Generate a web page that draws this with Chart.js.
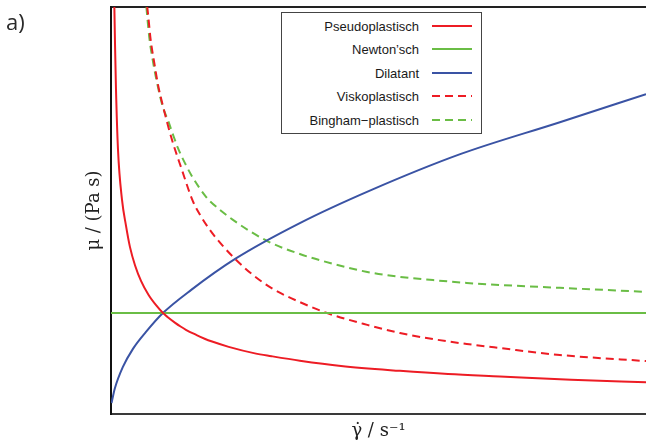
<!DOCTYPE html>
<html>
<head>
<meta charset="utf-8">
<script src="https://cdn.jsdelivr.net/npm/chart.js@4/dist/chart.umd.min.js"></script>
<style>
  html, body { margin: 0; padding: 0; background: #fff; overflow: hidden; }
  #wrap { position: relative; width: 646px; height: 443px; }
  #c { position: absolute; left: 0; top: 0; }
  #tag { position: absolute; left: 6px; top: 10px; font-family: "Open Sans", sans-serif; font-size: 22px; line-height: 22px; color: #2a2a2a; }
  #legend { position: absolute; left: 281px; top: 12px; width: 199px; height: 119px; border: 1px solid #444; background: #fff; padding-top: 1px; box-sizing: content-box; }
  .row { position: relative; height: 23.5px; }
  .row span { position: absolute; right: 62px; top: 50%; transform: translateY(-50%); font-family: "Liberation Sans", Arial, sans-serif; font-size: 13px; color: #1a1a1a; white-space: nowrap; }
  .row svg { position: absolute; left: 150px; top: 50%; transform: translateY(-50%); }
</style>
</head>
<body>
<div id="wrap">
  <canvas id="c" width="646" height="443"></canvas>
  <div id="tag">a)</div>
  <div id="legend"></div>
</div>
<script>
// Series names (legend order)
const seriesNames = ['Pseudoplastisch', 'Newton\u2019sch', 'Dilatant', 'Viskoplastisch', 'Bingham\u2212plastisch'];
const seriesColors = ['#ED1C24', '#6ABD45', '#3A53A4', '#ED1C24', '#6ABD45'];
const seriesDashed = [false, false, false, true, true];

// Axis titles
const xTitle = '\u03B3\u0307 / s\u207B\u00B9';
const yTitle = '\u03BC / (Pa s)';

// Values (arbitrary units, axes 0..10)
const pseudoX = [0.056, 0.075, 0.093, 0.131, 0.206, 0.28, 0.355, 0.45, 0.561, 0.70, 0.85, 0.972, 1.05, 1.20, 1.30, 1.40, 1.60, 1.75, 1.89, 2.20, 2.69, 3.00, 3.53, 4.30, 5.40, 6.30, 7.27, 8.60, 10.0];
const pseudoY = [10.52, 9.09, 7.99, 6.49, 5.26, 4.63, 4.10, 3.65, 3.27, 2.93, 2.66, 2.48, 2.39, 2.24, 2.15, 2.07, 1.94, 1.85, 1.78, 1.65, 1.49, 1.42, 1.31, 1.18, 1.06, 0.98, 0.92, 0.84, 0.78];

const newtonX = [0, 10];
const newtonY = [2.48, 2.48];

const dilatX = [0.01, 0.07, 0.22, 0.41, 0.65, 0.97, 1.50, 2.32, 3.53, 4.86, 6.54, 8.39, 10.0];
const dilatY = [0.27, 0.62, 1.15, 1.60, 2.01, 2.48, 3.05, 3.81, 4.69, 5.50, 6.39, 7.17, 7.86];

const viskoX = [0.65, 0.70, 0.74, 0.81, 0.88, 0.98, 1.13, 1.32, 1.53, 1.68, 1.85, 2.09, 2.32, 2.65, 3.03, 3.53, 4.04, 4.79, 5.40, 6.02, 6.65, 7.27, 8.39, 10.0];
const viskoY = [10.32, 9.73, 9.21, 8.62, 8.08, 7.52, 6.78, 6.02, 5.23, 4.86, 4.52, 4.13, 3.81, 3.42, 3.07, 2.75, 2.48, 2.19, 1.99, 1.84, 1.72, 1.62, 1.45, 1.30];

const binghamX = [0.64, 0.68, 0.72, 0.79, 0.87, 0.97, 1.07, 1.16, 1.25, 1.38, 1.51, 1.64, 1.78, 1.85, 2.28, 2.92, 3.53, 4.15, 4.79, 5.40, 6.02, 6.65, 7.27, 8.39, 10.0];
const binghamY = [10.32, 9.73, 9.21, 8.62, 8.08, 7.54, 7.20, 6.86, 6.54, 6.17, 5.85, 5.58, 5.33, 5.23, 4.77, 4.25, 3.93, 3.69, 3.49, 3.37, 3.29, 3.22, 3.17, 3.10, 3.00];

const seriesX = [pseudoX, newtonX, dilatX, viskoX, binghamX];
const seriesY = [pseudoY, newtonY, dilatY, viskoY, binghamY];

const dash = [8, 5];
const datasets = seriesNames.map((name, i) => ({
  label: name,
  data: seriesX[i].map((x, k) => ({ x: x, y: seriesY[i][k] })),
  showLine: true,
  borderColor: seriesColors[i],
  backgroundColor: seriesColors[i],
  borderWidth: 2,
  borderDash: seriesDashed[i] ? dash : [],
  pointRadius: 0,
  fill: false,
  cubicInterpolationMode: 'monotone',
  clip: 0
}));

const chart = new Chart(document.getElementById('c'), {
  type: 'scatter',
  data: { datasets },
  options: {
    responsive: false,
    animation: false,
    layout: { padding: 0 },
    plugins: { legend: { display: false }, tooltip: { enabled: false } },
    scales: {
      x: {
        type: 'linear', min: 0, max: 10, position: 'bottom',
        grid: { display: false }, ticks: { display: false },
        border: { display: true, color: '#3a3a3a', width: 2 },
        title: { display: true, text: xTitle, color: '#222', font: { family: 'DejaVu Serif', size: 18 }, padding: { top: 0, bottom: 1 } },
        afterFit(s) { s.height = 29; }
      },
      x2: {
        type: 'linear', min: 0, max: 10, position: 'top',
        grid: { display: false }, ticks: { display: false },
        border: { display: true, color: '#222', width: 2 },
        afterFit(s) { s.height = 7; }
      },
      y: {
        type: 'linear', min: 0, max: 10, position: 'left',
        grid: { display: false }, ticks: { display: false },
        border: { display: true, color: '#111', width: 2 },
        title: { display: true, text: yTitle, color: '#222', font: { family: 'DejaVu Serif', size: 18 }, padding: { top: 84, bottom: 0 } },
        afterFit(s) { s.width = 111; }
      }
    }
  }
});

// HTML legend built from the chart's datasets (sample line after the text)
const legend = document.getElementById('legend');
chart.data.datasets.forEach(ds => {
  const row = document.createElement('div');
  row.className = 'row';
  const span = document.createElement('span');
  span.textContent = ds.label;
  row.appendChild(span);
  const svgNS = 'http://www.w3.org/2000/svg';
  const svg = document.createElementNS(svgNS, 'svg');
  svg.setAttribute('width', '40');
  svg.setAttribute('height', '4');
  const ln = document.createElementNS(svgNS, 'line');
  ln.setAttribute('x1', '0'); ln.setAttribute('x2', '40');
  ln.setAttribute('y1', '2'); ln.setAttribute('y2', '2');
  ln.setAttribute('stroke', ds.borderColor);
  ln.setAttribute('stroke-width', '2');
  if (ds.borderDash && ds.borderDash.length) ln.setAttribute('stroke-dasharray', ds.borderDash.join(' '));
  svg.appendChild(ln);
  row.appendChild(svg);
  legend.appendChild(row);
});
</script>
</body>
</html>
